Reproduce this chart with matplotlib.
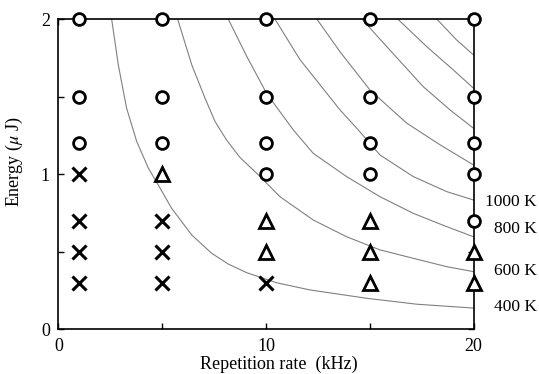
import numpy as np
import matplotlib as mpl
import matplotlib.pyplot as plt

mpl.rcParams['font.family'] = 'Liberation Serif'
mpl.rcParams['mathtext.fontset'] = 'stix'

# experimental points: (repetition rate kHz, energy uJ)
circle_f = [1, 1, 1, 5, 5, 5, 10, 10, 10, 10, 15, 15, 15, 15, 20, 20, 20, 20, 20]
circle_e = [2, 1.5, 1.2, 2, 1.5, 1.2, 2, 1.5, 1.2, 1.0, 2, 1.5, 1.2, 1.0, 2, 1.5, 1.2, 1.0, 0.7]
tri_f = [5, 10, 10, 15, 15, 15, 20, 20]
tri_e = [1.0, 0.7, 0.5, 0.7, 0.5, 0.3, 0.5, 0.3]
cross_f = [1, 1, 1, 1, 5, 5, 5, 10]
cross_e = [1.0, 0.7, 0.5, 0.3, 0.7, 0.5, 0.3, 0.3]

# isotherms
iso_400_f = [2.57, 2.89, 3.29, 3.78, 4.34, 4.82, 5.46, 6.43, 7.39, 8.2, 9.08, 10.52, 12.12, 14.86, 17.26, 20]
iso_400_e = [2.0, 1.705, 1.426, 1.21, 1.039, 0.93, 0.78, 0.608, 0.49, 0.42, 0.365, 0.30, 0.254, 0.20, 0.162, 0.137]
iso_600_f = [5.75, 6.43, 7.07, 7.55, 8.11, 8.74, 9.72, 10.68, 12.28, 13.89, 15.50, 17.10, 18.71, 20]
iso_600_e = [2.0, 1.705, 1.49, 1.34, 1.22, 1.11, 0.985, 0.855, 0.705, 0.597, 0.512, 0.458, 0.404, 0.372]
iso_800_f = [8.19, 9.08, 10.04, 11.32, 12.28, 13.89, 15.50, 17.10, 18.71, 20]
iso_800_e = [2.0, 1.76, 1.52, 1.286, 1.135, 0.985, 0.855, 0.748, 0.662, 0.597]
iso_1000_f = [10.44, 11.64, 13.57, 14.45, 15.50, 17.10, 18.71, 20]
iso_1000_e = [2.0, 1.74, 1.415, 1.286, 1.124, 0.985, 0.888, 0.834]
iso_1200_f = [12.46, 13.57, 15.01, 16.78, 18.39, 20]
iso_1200_e = [2.0, 1.79, 1.544, 1.33, 1.19, 1.06]
iso_1400_f = [14.63, 15.98, 17.58, 18.87, 20]
iso_1400_e = [2.0, 1.80, 1.565, 1.415, 1.297]
iso_1600_f = [16.36, 17.75, 19.03, 20]
iso_1600_e = [2.0, 1.823, 1.673, 1.555]
iso_1800_f = [18.24, 19.19, 20]
iso_1800_e = [2.0, 1.866, 1.77]

iso_labels = ['1000 K', '800 K', '600 K', '400 K']
iso_label_e = [0.823, 0.649, 0.378, 0.141]

fig = plt.figure(figsize=(5.39, 3.74), dpi=100)
ax = fig.add_axes([0.1082, 0.1195, 0.7703, 0.829])

for f, e in [(iso_400_f, iso_400_e), (iso_600_f, iso_600_e), (iso_800_f, iso_800_e),
             (iso_1000_f, iso_1000_e), (iso_1200_f, iso_1200_e), (iso_1400_f, iso_1400_e),
             (iso_1600_f, iso_1600_e), (iso_1800_f, iso_1800_e)]:
    ax.plot(f, e, color='#808080', lw=0.8, zorder=2)

ax.plot(circle_f, circle_e, 'o', ms=8.5, mfc='white', mec='black', mew=2.0,
        clip_on=False, zorder=5)
ax.plot(tri_f, tri_e, '^', ms=10, mfc='white', mec='black', mew=2.0,
        clip_on=False, zorder=5)
ax.plot(cross_f, cross_e, 'x', ms=10, mec='black', mew=2.2,
        clip_on=False, zorder=5)

for lab, y in zip(iso_labels, iso_label_e):
    ax.text(1.152, y, lab, transform=ax.get_yaxis_transform(), ha='right', va='center',
            fontsize=12.5, clip_on=False)

ax.set_xlim(0, 20)
ax.set_ylim(0, 2)
ax.set_xticks([0, 10, 20])
ax.set_xticks([5, 15], minor=True)
ax.set_yticks([0, 1, 2])
ax.set_yticks([0.5, 1.5], minor=True)
ax.tick_params(which='both', direction='in', top=True, right=True, length=4.5,
               width=1.0, labelsize=13, pad=6)
for s in ax.spines.values():
    s.set_linewidth(1.2)

ax.set_xlabel('Repetition rate  (kHz)', fontsize=13, labelpad=2)
ax.xaxis.set_label_coords(0.53, -0.085, transform=ax.transAxes)
ax.set_ylabel(r'Energy ($\mu$ J)', fontsize=13, labelpad=8)
ax.yaxis.set_label_coords(-0.08, 0.54)

fig.savefig('out.png', dpi=100)
